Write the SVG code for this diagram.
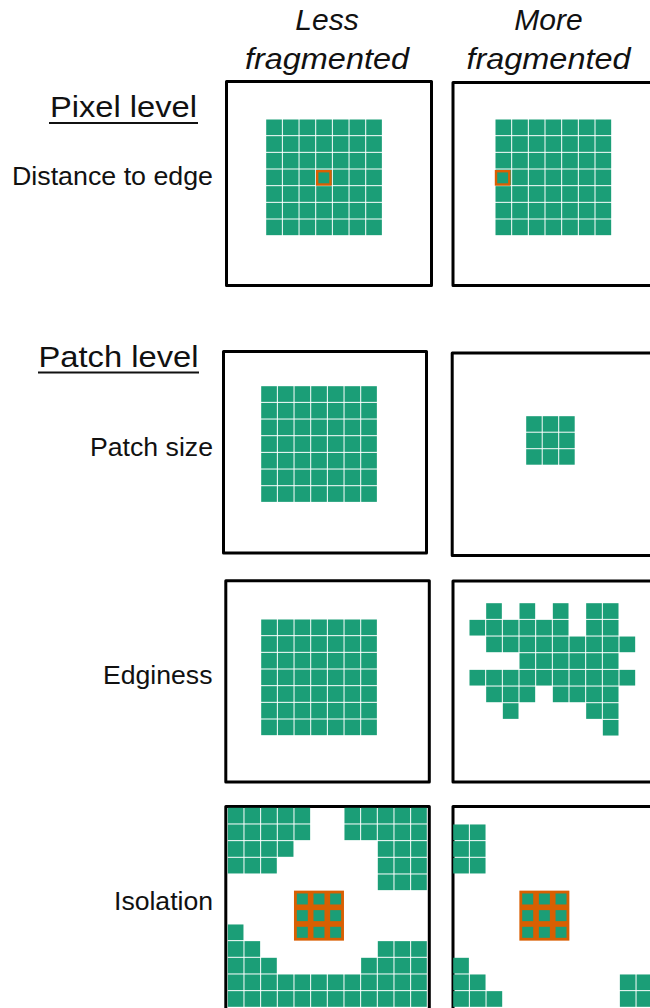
<svg xmlns="http://www.w3.org/2000/svg" xmlns:xlink="http://www.w3.org/1999/xlink" width="650" height="1008" viewBox="0 0 650 1008">
<style>
.panel{fill:#fff;stroke:#000;stroke-width:3;stroke-linejoin:round}
.cell{fill:#1b9e77}
.org{fill:#d95f02}
.hl{fill:none;stroke:#d95f02;stroke-width:2.4}
.col{font-family:"Liberation Sans",Arial,sans-serif;font-style:italic;font-size:30px;fill:#111;text-anchor:middle}
.head{font-family:"Liberation Sans",Arial,sans-serif;font-size:30px;fill:#111}
.lab{font-family:"Liberation Sans",Arial,sans-serif;font-size:25px;fill:#111;text-anchor:end}
.ul{stroke:#111;stroke-width:2}
</style>
<defs>
<rect id="c" class="cell" x="0.03" y="0.03" width="0.94" height="0.94"/>
<g id="g7">
<use xlink:href="#c" x="0" y="0"/><use xlink:href="#c" x="1" y="0"/><use xlink:href="#c" x="2" y="0"/><use xlink:href="#c" x="3" y="0"/><use xlink:href="#c" x="4" y="0"/><use xlink:href="#c" x="5" y="0"/><use xlink:href="#c" x="6" y="0"/>
<use xlink:href="#c" x="0" y="1"/><use xlink:href="#c" x="1" y="1"/><use xlink:href="#c" x="2" y="1"/><use xlink:href="#c" x="3" y="1"/><use xlink:href="#c" x="4" y="1"/><use xlink:href="#c" x="5" y="1"/><use xlink:href="#c" x="6" y="1"/>
<use xlink:href="#c" x="0" y="2"/><use xlink:href="#c" x="1" y="2"/><use xlink:href="#c" x="2" y="2"/><use xlink:href="#c" x="3" y="2"/><use xlink:href="#c" x="4" y="2"/><use xlink:href="#c" x="5" y="2"/><use xlink:href="#c" x="6" y="2"/>
<use xlink:href="#c" x="0" y="3"/><use xlink:href="#c" x="1" y="3"/><use xlink:href="#c" x="2" y="3"/><use xlink:href="#c" x="3" y="3"/><use xlink:href="#c" x="4" y="3"/><use xlink:href="#c" x="5" y="3"/><use xlink:href="#c" x="6" y="3"/>
<use xlink:href="#c" x="0" y="4"/><use xlink:href="#c" x="1" y="4"/><use xlink:href="#c" x="2" y="4"/><use xlink:href="#c" x="3" y="4"/><use xlink:href="#c" x="4" y="4"/><use xlink:href="#c" x="5" y="4"/><use xlink:href="#c" x="6" y="4"/>
<use xlink:href="#c" x="0" y="5"/><use xlink:href="#c" x="1" y="5"/><use xlink:href="#c" x="2" y="5"/><use xlink:href="#c" x="3" y="5"/><use xlink:href="#c" x="4" y="5"/><use xlink:href="#c" x="5" y="5"/><use xlink:href="#c" x="6" y="5"/>
<use xlink:href="#c" x="0" y="6"/><use xlink:href="#c" x="1" y="6"/><use xlink:href="#c" x="2" y="6"/><use xlink:href="#c" x="3" y="6"/><use xlink:href="#c" x="4" y="6"/><use xlink:href="#c" x="5" y="6"/><use xlink:href="#c" x="6" y="6"/>
</g>
<g id="focal">
<rect class="org" x="0" y="0" width="3" height="3"/>
<rect class="cell" x="0.17" y="0.17" width="0.66" height="0.66"/><rect class="cell" x="1.17" y="0.17" width="0.66" height="0.66"/><rect class="cell" x="2.17" y="0.17" width="0.66" height="0.66"/>
<rect class="cell" x="0.17" y="1.17" width="0.66" height="0.66"/><rect class="cell" x="1.17" y="1.17" width="0.66" height="0.66"/><rect class="cell" x="2.17" y="1.17" width="0.66" height="0.66"/>
<rect class="cell" x="0.17" y="2.17" width="0.66" height="0.66"/><rect class="cell" x="1.17" y="2.17" width="0.66" height="0.66"/><rect class="cell" x="2.17" y="2.17" width="0.66" height="0.66"/>
</g>
</defs>

<g id="labels">
<text class="col" x="327" y="30">Less</text>
<text class="col" x="327" y="69" textLength="164" lengthAdjust="spacingAndGlyphs">fragmented</text>
<text class="col" x="548.5" y="30">More</text>
<text class="col" x="548.5" y="69" textLength="164" lengthAdjust="spacingAndGlyphs">fragmented</text>
<text class="head" x="50" y="116.5" textLength="147" lengthAdjust="spacingAndGlyphs">Pixel level</text>
<line class="ul" x1="49" y1="123" x2="198" y2="123"/>
<text class="lab" x="213" y="185" textLength="201" lengthAdjust="spacingAndGlyphs">Distance to edge</text>
<text class="head" x="38.5" y="366.5" textLength="160" lengthAdjust="spacingAndGlyphs">Patch level</text>
<line class="ul" x1="38" y1="372.5" x2="199" y2="372.5"/>
<text class="lab" x="213" y="456" textLength="123" lengthAdjust="spacingAndGlyphs">Patch size</text>
<text class="lab" x="212.5" y="684" textLength="109.5" lengthAdjust="spacingAndGlyphs">Edginess</text>
<text class="lab" x="213" y="910" textLength="99" lengthAdjust="spacingAndGlyphs">Isolation</text>
</g>

<g id="pixel-less">
<rect class="panel" x="226.5" y="81.5" width="205" height="204"/>
<g transform="translate(265.7,119) scale(16.667)"><use xlink:href="#g7"/></g>
<rect class="hl" x="317.2" y="171.2" width="13.3" height="13.3"/>
</g>
<g id="pixel-more">
<rect class="panel" x="453" y="82.5" width="206" height="203"/>
<g transform="translate(495,119) scale(16.667)"><use xlink:href="#g7"/></g>
<rect class="hl" x="496" y="171.2" width="13.3" height="13.3"/>
</g>

<g id="patch-less">
<rect class="panel" x="223.5" y="351.5" width="203" height="201.5"/>
<g transform="translate(260.7,385.7) scale(16.667)"><use xlink:href="#g7"/></g>
</g>
<g id="patch-more">
<rect class="panel" x="452.2" y="353" width="206" height="202.5"/>
<g transform="translate(525.7,415.7) scale(16.5)">
<use xlink:href="#c" x="0" y="0"/><use xlink:href="#c" x="1" y="0"/><use xlink:href="#c" x="2" y="0"/>
<use xlink:href="#c" x="0" y="1"/><use xlink:href="#c" x="1" y="1"/><use xlink:href="#c" x="2" y="1"/>
<use xlink:href="#c" x="0" y="2"/><use xlink:href="#c" x="1" y="2"/><use xlink:href="#c" x="2" y="2"/>
</g>
</g>

<g id="edge-less">
<rect class="panel" x="225.8" y="580.8" width="203.5" height="201.2"/>
<g transform="translate(260.7,619) scale(16.667)"><use xlink:href="#g7"/></g>
</g>
<g id="edge-more">
<rect class="panel" x="453" y="581" width="206" height="201"/>
<g transform="translate(469,602.7) scale(16.667)">
<use xlink:href="#c" x="1" y="0"/><use xlink:href="#c" x="3" y="0"/><use xlink:href="#c" x="5" y="0"/><use xlink:href="#c" x="7" y="0"/><use xlink:href="#c" x="8" y="0"/>
<use xlink:href="#c" x="0" y="1"/><use xlink:href="#c" x="1" y="1"/><use xlink:href="#c" x="2" y="1"/><use xlink:href="#c" x="3" y="1"/><use xlink:href="#c" x="4" y="1"/><use xlink:href="#c" x="5" y="1"/><use xlink:href="#c" x="7" y="1"/><use xlink:href="#c" x="8" y="1"/>
<use xlink:href="#c" x="1" y="2"/><use xlink:href="#c" x="2" y="2"/><use xlink:href="#c" x="3" y="2"/><use xlink:href="#c" x="4" y="2"/><use xlink:href="#c" x="5" y="2"/><use xlink:href="#c" x="6" y="2"/><use xlink:href="#c" x="7" y="2"/><use xlink:href="#c" x="8" y="2"/><use xlink:href="#c" x="9" y="2"/>
<use xlink:href="#c" x="3" y="3"/><use xlink:href="#c" x="4" y="3"/><use xlink:href="#c" x="5" y="3"/><use xlink:href="#c" x="6" y="3"/><use xlink:href="#c" x="7" y="3"/><use xlink:href="#c" x="8" y="3"/>
<use xlink:href="#c" x="0" y="4"/><use xlink:href="#c" x="1" y="4"/><use xlink:href="#c" x="2" y="4"/><use xlink:href="#c" x="3" y="4"/><use xlink:href="#c" x="4" y="4"/><use xlink:href="#c" x="5" y="4"/><use xlink:href="#c" x="6" y="4"/><use xlink:href="#c" x="7" y="4"/><use xlink:href="#c" x="8" y="4"/><use xlink:href="#c" x="9" y="4"/>
<use xlink:href="#c" x="1" y="5"/><use xlink:href="#c" x="2" y="5"/><use xlink:href="#c" x="3" y="5"/><use xlink:href="#c" x="5" y="5"/><use xlink:href="#c" x="6" y="5"/><use xlink:href="#c" x="7" y="5"/><use xlink:href="#c" x="8" y="5"/>
<use xlink:href="#c" x="2" y="6"/><use xlink:href="#c" x="7" y="6"/><use xlink:href="#c" x="8" y="6"/>
<use xlink:href="#c" x="8" y="7"/>
</g>
</g>

<g id="iso-less">
<rect class="panel" x="225.8" y="806.5" width="203.5" height="212"/>
<g transform="translate(227.3,807.3) scale(16.667)">
<use xlink:href="#c" x="0" y="0"/><use xlink:href="#c" x="1" y="0"/><use xlink:href="#c" x="2" y="0"/><use xlink:href="#c" x="3" y="0"/><use xlink:href="#c" x="4" y="0"/><use xlink:href="#c" x="7" y="0"/><use xlink:href="#c" x="8" y="0"/><use xlink:href="#c" x="9" y="0"/><use xlink:href="#c" x="10" y="0"/><use xlink:href="#c" x="11" y="0"/>
<use xlink:href="#c" x="0" y="1"/><use xlink:href="#c" x="1" y="1"/><use xlink:href="#c" x="2" y="1"/><use xlink:href="#c" x="3" y="1"/><use xlink:href="#c" x="4" y="1"/><use xlink:href="#c" x="7" y="1"/><use xlink:href="#c" x="8" y="1"/><use xlink:href="#c" x="9" y="1"/><use xlink:href="#c" x="10" y="1"/><use xlink:href="#c" x="11" y="1"/>
<use xlink:href="#c" x="0" y="2"/><use xlink:href="#c" x="1" y="2"/><use xlink:href="#c" x="2" y="2"/><use xlink:href="#c" x="3" y="2"/><use xlink:href="#c" x="9" y="2"/><use xlink:href="#c" x="10" y="2"/><use xlink:href="#c" x="11" y="2"/>
<use xlink:href="#c" x="0" y="3"/><use xlink:href="#c" x="1" y="3"/><use xlink:href="#c" x="2" y="3"/><use xlink:href="#c" x="9" y="3"/><use xlink:href="#c" x="10" y="3"/><use xlink:href="#c" x="11" y="3"/>
<use xlink:href="#c" x="9" y="4"/><use xlink:href="#c" x="10" y="4"/><use xlink:href="#c" x="11" y="4"/>
<use xlink:href="#c" x="0" y="7"/>
<use xlink:href="#c" x="0" y="8"/><use xlink:href="#c" x="1" y="8"/><use xlink:href="#c" x="9" y="8"/><use xlink:href="#c" x="10" y="8"/><use xlink:href="#c" x="11" y="8"/>
<use xlink:href="#c" x="0" y="9"/><use xlink:href="#c" x="1" y="9"/><use xlink:href="#c" x="2" y="9"/><use xlink:href="#c" x="8" y="9"/><use xlink:href="#c" x="9" y="9"/><use xlink:href="#c" x="10" y="9"/><use xlink:href="#c" x="11" y="9"/>
<use xlink:href="#c" x="0" y="10"/><use xlink:href="#c" x="1" y="10"/><use xlink:href="#c" x="2" y="10"/><use xlink:href="#c" x="3" y="10"/><use xlink:href="#c" x="4" y="10"/><use xlink:href="#c" x="5" y="10"/><use xlink:href="#c" x="6" y="10"/><use xlink:href="#c" x="7" y="10"/><use xlink:href="#c" x="8" y="10"/><use xlink:href="#c" x="9" y="10"/><use xlink:href="#c" x="10" y="10"/><use xlink:href="#c" x="11" y="10"/>
<use xlink:href="#c" x="0" y="11"/><use xlink:href="#c" x="1" y="11"/><use xlink:href="#c" x="2" y="11"/><use xlink:href="#c" x="3" y="11"/><use xlink:href="#c" x="4" y="11"/><use xlink:href="#c" x="5" y="11"/><use xlink:href="#c" x="6" y="11"/><use xlink:href="#c" x="7" y="11"/><use xlink:href="#c" x="8" y="11"/><use xlink:href="#c" x="9" y="11"/><use xlink:href="#c" x="10" y="11"/><use xlink:href="#c" x="11" y="11"/>
<use xlink:href="#focal" x="4" y="5"/>
</g>
</g>
<g id="iso-more">
<rect class="panel" x="453" y="806.5" width="206" height="212"/>
<g transform="translate(452.7,807.3) scale(16.667)">
<use xlink:href="#c" x="0" y="1"/><use xlink:href="#c" x="1" y="1"/>
<use xlink:href="#c" x="0" y="2"/><use xlink:href="#c" x="1" y="2"/>
<use xlink:href="#c" x="0" y="3"/><use xlink:href="#c" x="1" y="3"/>
<use xlink:href="#c" x="0" y="9"/>
<use xlink:href="#c" x="0" y="10"/><use xlink:href="#c" x="1" y="10"/><use xlink:href="#c" x="10" y="10"/><use xlink:href="#c" x="11" y="10"/>
<use xlink:href="#c" x="0" y="11"/><use xlink:href="#c" x="1" y="11"/><use xlink:href="#c" x="2" y="11"/><use xlink:href="#c" x="10" y="11"/><use xlink:href="#c" x="11" y="11"/>
<use xlink:href="#focal" x="4" y="5"/>
</g>
</g>
</svg>
